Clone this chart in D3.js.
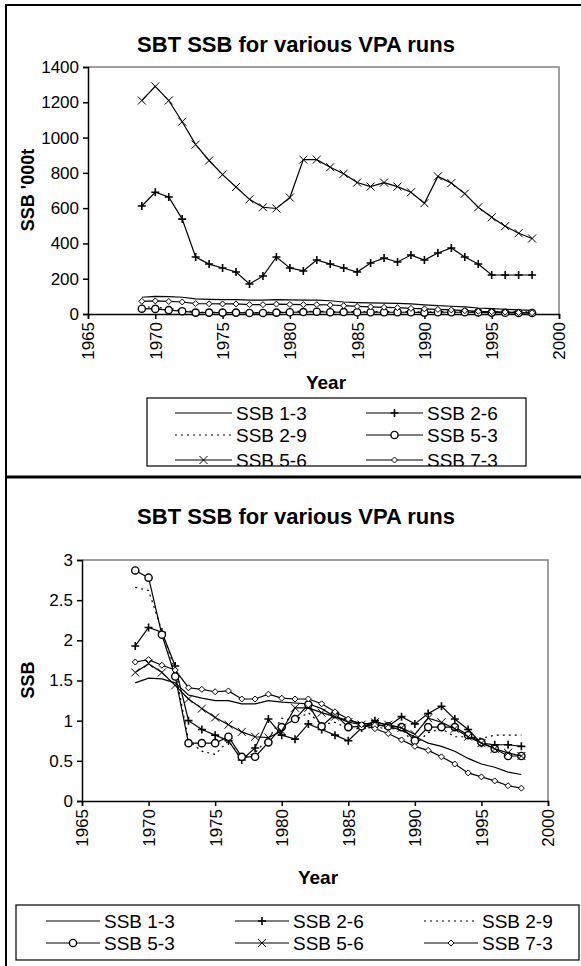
<!DOCTYPE html>
<html>
<head>
<meta charset="utf-8">
<script src="https://cdn.jsdelivr.net/npm/d3@7"></script>
<style>
  body { margin: 0; background: #fff; }
  svg { display: block; }
  text { font-family: "Liberation Sans", Arial, sans-serif; fill: #000; }
</style>
</head>
<body>
<div id="chart"></div>
<script>
// years 1969 - 1998
var years = [1969, 1970, 1971, 1972, 1973, 1974, 1975, 1976, 1977, 1978,
             1979, 1980, 1981, 1982, 1983, 1984, 1985, 1986, 1987, 1988,
             1989, 1990, 1991, 1992, 1993, 1994, 1995, 1996, 1997, 1998]

var seriesNames = ["SSB 1-3", "SSB 2-6", "SSB 2-9", "SSB 5-3", "SSB 5-6", "SSB 7-3"]
var xTicks = [1965, 1970, 1975, 1980, 1985, 1990, 1995, 2000]

// top chart, SSB '000t
var abs13 = [95, 100, 98, 95, 86, 83, 81, 81, 79, 79, 81, 80, 79, 79, 75, 68, 65, 63, 62, 60, 57, 52, 47, 44, 40, 34, 30, 27, 23, 21]
var abs26 = [612, 690, 663, 538, 323, 283, 261, 238, 170, 215, 323, 261, 244, 306, 283, 261, 238, 289, 317, 295, 334, 306, 346, 374, 323, 283, 221, 221, 221, 221]
var abs29 = [40, 39, 31, 24, 11, 9, 9, 11, 8, 9, 12, 15, 15, 16, 14, 14, 13, 13, 13, 13, 13, 11, 13, 14, 12, 12, 12, 12, 12, 12]
var abs53 = [30, 29, 22, 16, 8, 8, 8, 8, 6, 6, 8, 10, 11, 13, 10, 11, 10, 10, 10, 10, 10, 8, 10, 10, 10, 9, 8, 7, 6, 6]
var abs56 = [1210, 1290, 1210, 1090, 960, 870, 790, 720, 650, 605, 598, 660, 875, 875, 832, 795, 745, 722, 745, 722, 690, 628, 780, 742, 682, 605, 548, 498, 458, 428]
var abs73 = [72, 74, 71, 68, 59, 58, 57, 57, 53, 53, 56, 54, 53, 53, 51, 47, 43, 40, 38, 36, 32, 29, 26, 23, 19, 15, 13, 11, 8, 7]
var absTicks = [0, 200, 400, 600, 800, 1000, 1200, 1400]

// bottom chart, relative SSB
var rel13 = [1.47, 1.53, 1.52, 1.47, 1.32, 1.28, 1.25, 1.25, 1.21, 1.21, 1.25, 1.23, 1.22, 1.21, 1.15, 1.05, 1.0, 0.97, 0.95, 0.93, 0.88, 0.8, 0.72, 0.68, 0.62, 0.53, 0.46, 0.42, 0.36, 0.33]
var rel26 = [1.93, 2.16, 2.1, 1.68, 1.0, 0.89, 0.82, 0.75, 0.51, 0.66, 1.02, 0.82, 0.77, 0.96, 0.89, 0.82, 0.75, 0.91, 1.0, 0.93, 1.05, 0.96, 1.09, 1.18, 1.02, 0.89, 0.72, 0.7, 0.7, 0.68]
var rel29 = [2.66, 2.62, 2.12, 1.62, 0.75, 0.62, 0.58, 0.75, 0.52, 0.6, 0.78, 1.03, 1.0, 1.1, 0.95, 0.98, 0.9, 0.9, 0.92, 0.9, 0.9, 0.7, 0.85, 0.9, 0.8, 0.8, 0.78, 0.82, 0.82, 0.82]
var rel53 = [2.87, 2.78, 2.07, 1.55, 0.72, 0.72, 0.72, 0.8, 0.55, 0.55, 0.73, 0.92, 1.02, 1.2, 0.93, 1.08, 0.92, 0.93, 0.95, 0.93, 0.92, 0.75, 0.92, 0.92, 0.92, 0.82, 0.73, 0.65, 0.56, 0.56]
var rel56 = [1.6, 1.71, 1.6, 1.44, 1.27, 1.15, 1.04, 0.95, 0.86, 0.8, 0.79, 0.87, 1.16, 1.16, 1.1, 1.05, 0.98, 0.95, 0.98, 0.95, 0.91, 0.83, 1.03, 0.98, 0.9, 0.8, 0.72, 0.65, 0.6, 0.56]
var rel73 = [1.73, 1.76, 1.69, 1.63, 1.41, 1.39, 1.36, 1.37, 1.27, 1.27, 1.33, 1.28, 1.27, 1.27, 1.21, 1.11, 1.02, 0.95, 0.9, 0.84, 0.76, 0.68, 0.63, 0.55, 0.46, 0.35, 0.3, 0.25, 0.19, 0.16]
var relTicks = [0, 0.5, 1, 1.5, 2, 2.5, 3]

var W = 581, H = 966

var svg = d3.select("#chart").append("svg")
    .attr("width", W)
    .attr("height", H)

// outer frame (cut off at right and bottom)
svg.append("line").attr("x1", 6).attr("x2", 6).attr("y1", 4).attr("y2", H)
    .attr("stroke", "#000").attr("stroke-width", 2)
svg.append("line").attr("x1", 5).attr("x2", W).attr("y1", 5).attr("y2", 5)
    .attr("stroke", "#000").attr("stroke-width", 2)
svg.append("line").attr("x1", 5).attr("x2", W).attr("y1", 477).attr("y2", 477)
    .attr("stroke", "#000").attr("stroke-width", 3)

// marker shapes
function drawMarker(g, kind, x, y) {
    if (kind == "plus") {
        g.append("path").attr("d", "M" + (x - 4) + "," + y + "h8M" + x + "," + (y - 4) + "v8")
            .attr("stroke", "#000").attr("stroke-width", 1.6).attr("fill", "none")
    } else if (kind == "circle") {
        g.append("circle").attr("cx", x).attr("cy", y).attr("r", 3.6)
            .attr("stroke", "#000").attr("stroke-width", 1.4).attr("fill", "#fff")
    } else if (kind == "cross") {
        g.append("path").attr("d", "M" + (x - 4) + "," + (y - 4) + "l8,8M" + (x - 4) + "," + (y + 4) + "l8,-8")
            .attr("stroke", "#000").attr("stroke-width", 1).attr("fill", "none")
    } else if (kind == "diamond") {
        g.append("path").attr("d", "M" + x + "," + (y - 3) + "l3,3l-3,3l-3,-3z")
            .attr("stroke", "#000").attr("stroke-width", 1).attr("fill", "#fff")
    }
}

var styles = [
    { marker: null, dash: null },
    { marker: "plus", dash: null },
    { marker: null, dash: "2,4" },
    { marker: "circle", dash: null },
    { marker: "cross", dash: null },
    { marker: "diamond", dash: null }
]

function drawChart(cfg) {
    var g = svg.append("g")

    var x = d3.scaleLinear().domain([1965, 2000]).range([cfg.left, cfg.right])
    var y = d3.scaleLinear().domain([cfg.ticks[0], cfg.ticks[cfg.ticks.length - 1]]).range([cfg.bottom, cfg.top])

    // title
    g.append("text")
        .attr("x", cfg.titleX).attr("y", cfg.titleY)
        .attr("text-anchor", "middle")
        .style("font-size", "22px").style("font-weight", "bold")
        .text("SBT SSB for various VPA runs")

    // plot border (grey top/right)
    g.append("path")
        .attr("d", "M" + cfg.left + "," + cfg.top + "H" + cfg.right + "V" + cfg.bottom)
        .attr("stroke", "#808080").attr("stroke-width", 1.5).attr("fill", "none")

    // axes
    var yAxis = d3.axisLeft(y).tickValues(cfg.ticks).tickSize(5).tickPadding(4)
        .tickFormat(cfg.fmt)
    var ya = g.append("g").attr("transform", "translate(" + cfg.left + ",0)").call(yAxis)
    ya.selectAll("text").style("font-size", "17px").style("font-family", "Liberation Sans, Arial, sans-serif")
    ya.selectAll("line, path").attr("stroke", "#000").attr("stroke-width", 1.5)

    var xAxis = d3.axisBottom(x).tickValues(xTicks).tickSize(5).tickFormat(d3.format("d"))
    var xa = g.append("g").attr("transform", "translate(0," + cfg.bottom + ")").call(xAxis)
    xa.selectAll("line, path").attr("stroke", "#000").attr("stroke-width", 1.5)
    xa.selectAll("text")
        .style("font-size", "17px").style("font-family", "Liberation Sans, Arial, sans-serif")
        .attr("text-anchor", "end")
        .attr("dy", "0.35em")
        .attr("transform", "translate(0,8) rotate(-90)")
        .attr("x", 0).attr("y", 0)

    // axis titles
    g.append("text")
        .attr("transform", "translate(" + cfg.yTitleX + "," + cfg.yTitleY + ") rotate(-90)")
        .attr("text-anchor", "middle")
        .style("font-size", "18px").style("font-weight", "bold")
        .text(cfg.yTitle)
    g.append("text")
        .attr("x", cfg.xTitleX).attr("y", cfg.xTitleY)
        .attr("text-anchor", "middle")
        .style("font-size", "19px").style("font-weight", "bold")
        .text("Year")

    // series
    var line = d3.line()
        .x(function(d) { return x(d[0]) })
        .y(function(d) { return y(d[1]) })

    cfg.data.forEach(function(vals, i) {
        var pts = years.map(function(yr, j) { return [yr, vals[j]] })
        var st = styles[i]
        g.append("path")
            .attr("d", line(pts))
            .attr("fill", "none")
            .attr("stroke", "#000")
            .attr("stroke-width", 1.2)
            .attr("stroke-dasharray", st.dash)
        if (st.marker) {
            pts.forEach(function(p) { drawMarker(g, st.marker, x(p[0]), y(p[1])) })
        }
    })

    // legend
    var lg = cfg.legend
    var clipId = "clip" + cfg.id
    svg.append("clipPath").attr("id", clipId)
        .append("rect").attr("x", lg.x).attr("y", lg.y).attr("width", lg.w).attr("height", lg.h)
    var lgG = g.append("g").attr("clip-path", "url(#" + clipId + ")")
    seriesNames.forEach(function(name, i) {
        var col = i % lg.cols, row = Math.floor(i / lg.cols)
        var lx = lg.x + lg.colX[col]
        var ly = lg.y + lg.rowY[row]
        var st = styles[i]
        lgG.append("line")
            .attr("x1", lx).attr("x2", lx + lg.sample)
            .attr("y1", ly).attr("y2", ly)
            .attr("stroke", "#000").attr("stroke-width", 1.2)
            .attr("stroke-dasharray", st.dash)
        if (st.marker) drawMarker(lgG, st.marker, lx + lg.sample / 2, ly)
        lgG.append("text")
            .attr("x", lx + lg.sample + 4).attr("y", ly)
            .attr("dy", "0.36em")
            .style("font-size", "19px")
            .text(name)
    })
    g.append("rect")
        .attr("x", lg.x).attr("y", lg.y).attr("width", lg.w).attr("height", lg.h)
        .attr("fill", "none").attr("stroke", "#000").attr("stroke-width", 1.2)
}

drawChart({
    id: "top",
    left: 88, right: 559, top: 67, bottom: 314,
    ticks: absTicks, fmt: d3.format("d"),
    data: [abs13, abs26, abs29, abs53, abs56, abs73],
    titleX: 296, titleY: 52,
    yTitle: "SSB '000t", yTitleX: 34, yTitleY: 190,
    xTitleX: 326, xTitleY: 389,
    legend: { x: 147, y: 398, w: 379, h: 68, cols: 2, colX: [28, 219], sample: 57,
              rowY: [15, 37, 62] }
})

drawChart({
    id: "bot",
    left: 82, right: 548, top: 560, bottom: 801,
    ticks: relTicks, fmt: function(d) { return d },
    data: [rel13, rel26, rel29, rel53, rel56, rel73],
    titleX: 296, titleY: 524,
    yTitle: "SSB", yTitleX: 34, yTitleY: 680,
    xTitleX: 318, xTitleY: 884,
    legend: { x: 16, y: 905, w: 563, h: 55, cols: 3, colX: [30, 219, 408], sample: 54,
              rowY: [16, 38] }
})
</script>
</body>
</html>
